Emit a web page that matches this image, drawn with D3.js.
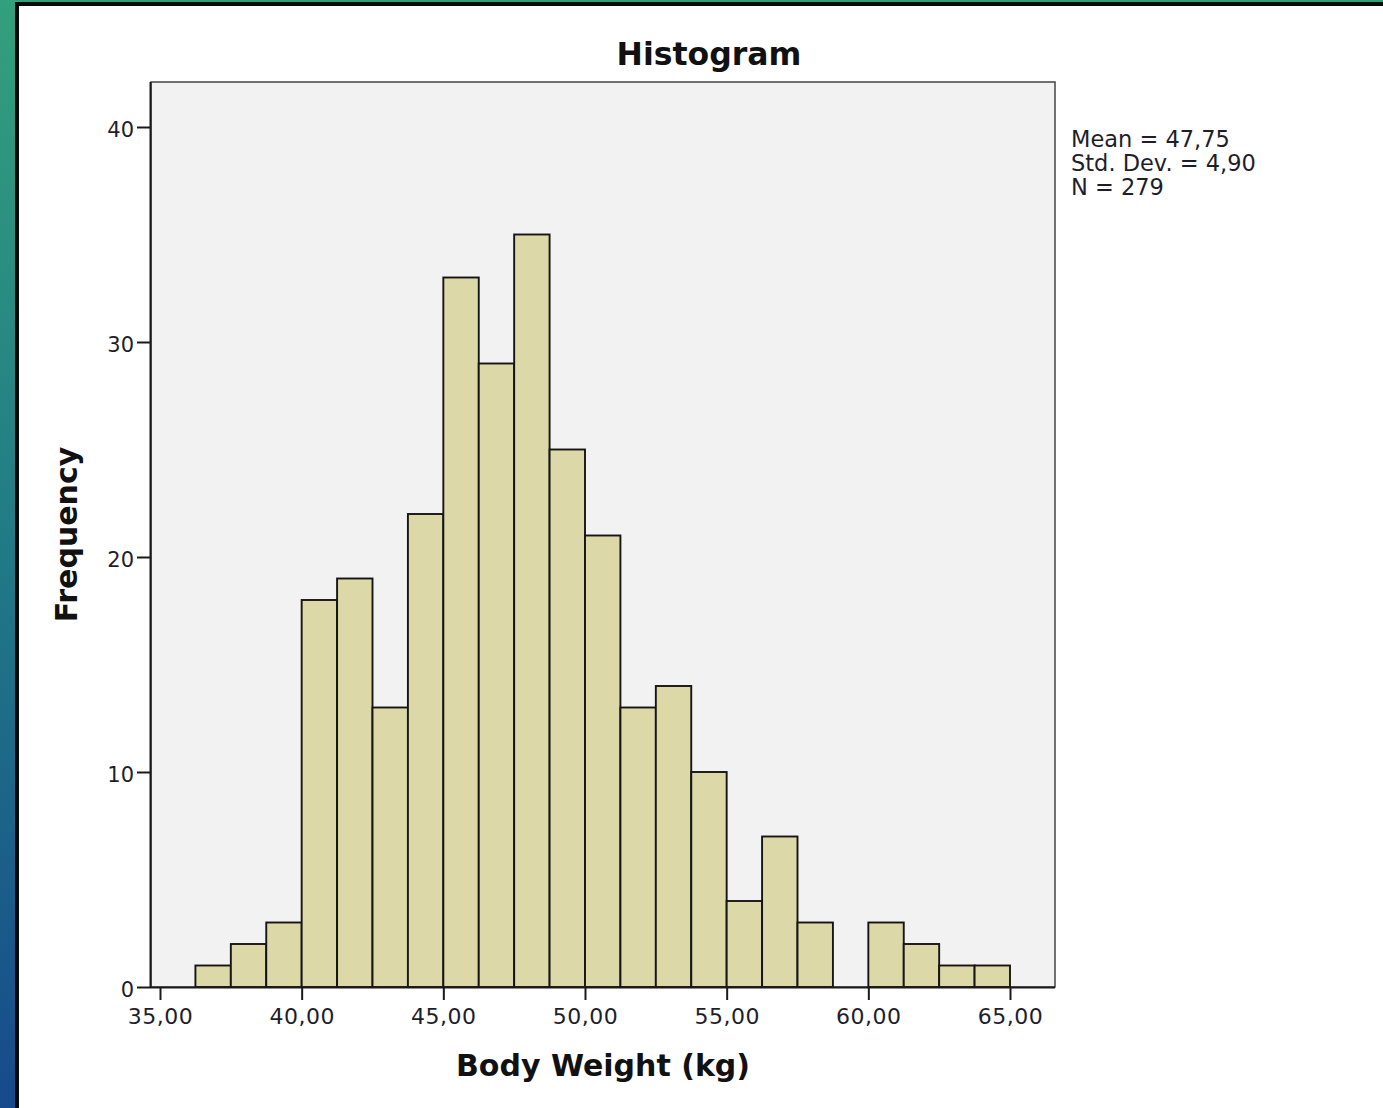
<!DOCTYPE html>
<html><head><meta charset="utf-8">
<script src="https://cdn.jsdelivr.net/npm/d3@7"></script>
<style>html,body{margin:0;padding:0;background:#fff;overflow:hidden}</style>
</head><body>
<svg id="c" width="1383" height="1108"></svg>
<script>
// Data
const binStarts = [36.25,37.5,38.75,40,41.25,42.5,43.75,45,46.25,47.5,48.75,50,51.25,52.5,53.75,55,56.25,57.5,58.75,60,61.25,62.5,63.75];
const binWidth = 1.25;
const counts = [1,2,3,18,19,13,22,33,29,35,25,21,13,14,10,4,7,3,0,3,2,1,1];
const xTicks = [35,40,45,50,55,60,65];
const yTicks = [0,10,20,30,40];
const statsLines = ["Mean = 47,75","Std. Dev. = 4,90","N = 279"];
const titleText = "Histogram";
const xTitle = "Body Weight (kg)";
const yTitle = "Frequency";

const svg = d3.select("#c");
// background decoration
const defs = svg.append("defs");
const g1 = defs.append("linearGradient").attr("id","bg").attr("x1",0).attr("y1",0).attr("x2",0).attr("y2",1);
g1.append("stop").attr("offset","0%").attr("stop-color","#33a07c");
g1.append("stop").attr("offset","50%").attr("stop-color","#207a86");
g1.append("stop").attr("offset","100%").attr("stop-color","#174a8c");
svg.append("rect").attr("x",0).attr("y",0).attr("width",1383).attr("height",1108).attr("fill","url(#bg)");
svg.append("rect").attr("x",15).attr("y",2).attr("width",1368).attr("height",1106).attr("fill","#0a0a0a");
svg.append("rect").attr("x",19).attr("y",6).attr("width",1364).attr("height",1102).attr("fill","#ffffff");

const L=151, R=1055, T=82, B=987;
const x = d3.scaleLinear().domain([35,65]).range([160,1010]);
const y = d3.scaleLinear().domain([0,40]).range([987,127]);

svg.append("rect").attr("x",L).attr("y",T).attr("width",R-L).attr("height",B-T)
  .attr("fill","#f2f2f2").attr("stroke","#444").attr("stroke-width",1.5);

const font = "'DejaVu Sans', Verdana, sans-serif";

svg.append("g").selectAll("rect").data(binStarts.map((s,i)=>({s,c:counts[i]})).filter(d=>d.c>0))
 .enter().append("rect")
 .attr("x",d=>x(d.s)).attr("width",d=>x(d.s+binWidth)-x(d.s))
 .attr("y",d=>y(d.c)).attr("height",d=>y(0)-y(d.c))
 .attr("fill","#dcd8a7").attr("stroke","#151515").attr("stroke-width",1.9);

// x axis
const xa = svg.append("g").attr("transform",`translate(0,${B})`)
 .call(d3.axisBottom(x).tickValues(xTicks).tickSize(13).tickSizeOuter(0)
   .tickFormat(d=>d3.format(".2f")(d).replace(".",",")));
xa.select(".domain").attr("d",`M${L},0.5H${R}`).attr("stroke","#1a1a1a").attr("stroke-width",2);
xa.selectAll(".tick line").attr("stroke","#1a1a1a").attr("stroke-width",2);
xa.selectAll("text").attr("font-family",font).attr("font-size",22).attr("fill","#1e1e2a").attr("y",37).attr("dy",0).attr("letter-spacing",0.5);

// y axis
const ya = svg.append("g").attr("transform",`translate(${L},0)`)
 .call(d3.axisLeft(y).tickValues(yTicks).tickSize(14).tickSizeOuter(0));
ya.select(".domain").attr("d",`M-0.5,${T}V${B}`).attr("stroke","#1a1a1a").attr("stroke-width",2);
ya.selectAll(".tick line").attr("stroke","#1a1a1a").attr("stroke-width",2);
ya.selectAll("text").attr("font-family",font).attr("font-size",21).attr("fill","#1e1e2a").attr("x",-17).attr("dy","0.45em");

// titles
svg.append("text").attr("x",709).attr("y",65).attr("text-anchor","middle")
 .attr("font-family",font).attr("font-weight","bold").attr("font-size",31.5).attr("fill","#111").text(titleText);
svg.append("text").attr("x",(L+R)/2).attr("y",1076).attr("text-anchor","middle")
 .attr("font-family",font).attr("font-weight","bold").attr("font-size",30).attr("fill","#111").text(xTitle);
svg.append("text").attr("transform",`translate(77,${(T+B)/2}) rotate(-90)`).attr("text-anchor","middle")
 .attr("font-family",font).attr("font-weight","bold").attr("font-size",30).attr("fill","#111").text(yTitle);

// stats
svg.append("g").selectAll("text").data(statsLines).enter().append("text")
 .attr("x",1071).attr("y",(d,i)=>147+i*24)
 .attr("font-family",font).attr("font-size",22.5).attr("fill","#1e1e2a").text(d=>d);
</script>
</body></html>
